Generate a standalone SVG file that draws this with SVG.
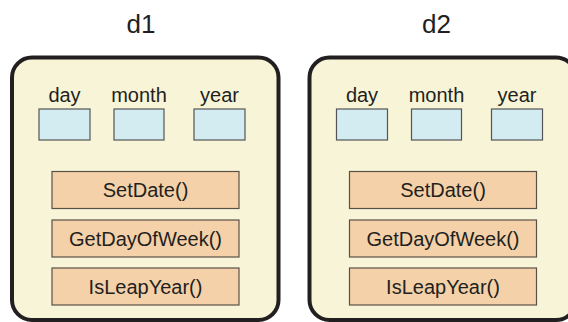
<svg xmlns="http://www.w3.org/2000/svg" width="568" height="322" viewBox="0 0 568 322">
  <style>
    .panel { fill: #f8f4d7; stroke: #231f20; stroke-width: 4; }
    .field { fill: #d2ecf1; stroke: #555555; stroke-width: 1.2; }
    .method { fill: #f4d1a8; stroke: #5a5048; stroke-width: 1.2; }
    text { font-family: "Liberation Sans", Arial, sans-serif; fill: #231f20; text-anchor: middle; }
    .title { font-size: 26px; }
    .lbl { font-size: 20px; }
  </style>
  <rect width="568" height="322" fill="#ffffff"/>

  <!-- object d1 -->
  <g id="d1">
    <text class="title" x="141" y="33">d1</text>
    <rect class="panel" x="12" y="57.5" width="266.5" height="262.5" rx="20" ry="20"/>
    <g id="d1-day">
      <text class="lbl" x="64.5" y="102">day</text>
      <rect class="field" x="39" y="109" width="51" height="31"/>
    </g>
    <g id="d1-month">
      <text class="lbl" x="139" y="102">month</text>
      <rect class="field" x="114" y="109" width="50" height="31"/>
    </g>
    <g id="d1-year">
      <text class="lbl" x="219.5" y="102">year</text>
      <rect class="field" x="194" y="109" width="51" height="31"/>
    </g>
    <g id="d1-setdate">
      <rect class="method" x="52" y="171.5" width="187" height="37"/>
      <text class="lbl" x="145.5" y="197">SetDate()</text>
    </g>
    <g id="d1-getdayofweek">
      <rect class="method" x="52" y="220" width="187" height="37"/>
      <text class="lbl" x="145.5" y="245.5">GetDayOfWeek()</text>
    </g>
    <g id="d1-isleapyear">
      <rect class="method" x="52" y="268" width="187" height="37"/>
      <text class="lbl" x="145.5" y="293.5">IsLeapYear()</text>
    </g>
  </g>

  <!-- object d2 -->
  <g id="d2" transform="translate(297.5 0)">
    <text class="title" x="139" y="33">d2</text>
    <rect class="panel" x="12" y="57.5" width="266.5" height="262.5" rx="20" ry="20"/>
    <g id="d2-day">
      <text class="lbl" x="64.5" y="102">day</text>
      <rect class="field" x="39" y="109" width="51" height="31"/>
    </g>
    <g id="d2-month">
      <text class="lbl" x="139" y="102">month</text>
      <rect class="field" x="114" y="109" width="50" height="31"/>
    </g>
    <g id="d2-year">
      <text class="lbl" x="219.5" y="102">year</text>
      <rect class="field" x="194" y="109" width="51" height="31"/>
    </g>
    <g id="d2-setdate">
      <rect class="method" x="52" y="171.5" width="187" height="37"/>
      <text class="lbl" x="145.5" y="197">SetDate()</text>
    </g>
    <g id="d2-getdayofweek">
      <rect class="method" x="52" y="220" width="187" height="37"/>
      <text class="lbl" x="145.5" y="245.5">GetDayOfWeek()</text>
    </g>
    <g id="d2-isleapyear">
      <rect class="method" x="52" y="268" width="187" height="37"/>
      <text class="lbl" x="145.5" y="293.5">IsLeapYear()</text>
    </g>
  </g>
</svg>
